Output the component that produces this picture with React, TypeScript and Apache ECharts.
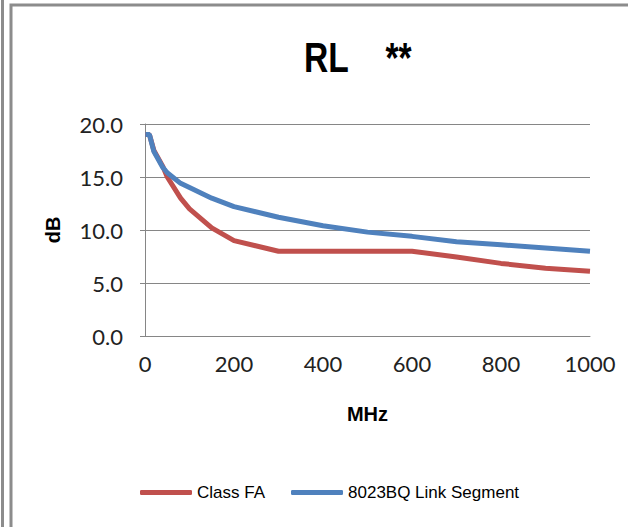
import React, { useEffect, useRef } from "react";
import * as echarts from "echarts";

const freqMHz = [1, 10, 20, 40, 50, 80, 100, 150, 200, 300, 400, 500, 600, 700, 800, 900, 1000];
const classFA = [19.0, 19.0, 17.5, 16.0, 15.0, 13.0, 12.0, 10.2, 9.0, 8.0, 8.0, 8.0, 8.0, 7.45, 6.85, 6.4, 6.1];
const linkSegment = [19.0, 19.0, 17.4, 15.9, 15.4, 14.4, 14.0, 13.0, 12.2, 11.2, 10.4, 9.8, 9.4, 8.9, 8.6, 8.3, 8.0];
const seriesNames = ["Class FA", "8023BQ Link Segment"];
const titleText = "RL    **";

const SANS = "'Liberation Sans', Arial, sans-serif";
const TICKFONT = "Lato, 'Open Sans', sans-serif";

export default function App() {
  const ref = useRef<HTMLDivElement>(null);
  useEffect(() => {
    if (!ref.current) return;
    const chart = echarts.init(ref.current, null, { renderer: "svg" });
    const pair = (ys: number[]) => freqMHz.map((f, i) => [f, ys[i]]);
    chart.setOption({
      animation: false,
      backgroundColor: "#ffffff",
      legend: {
        left: 135,
        top: 479,
        icon: "roundRect",
        itemWidth: 52,
        itemHeight: 5,
        itemGap: 26,
        textStyle: { fontFamily: SANS, fontSize: 17, color: "#000" },
        data: seriesNames,
      },
      grid: { left: 145, right: 38, top: 124, bottom: 191 },
      xAxis: {
        type: "value",
        min: 0,
        max: 1000,
        interval: 200,
        name: "MHz",
        nameLocation: "middle",
        nameGap: 68,
        nameTextStyle: { fontFamily: SANS, fontWeight: "bold", fontSize: 20, color: "#000" },
        axisLine: { show: true, lineStyle: { color: "#868686", width: 1 } },
        axisTick: { show: false },
        splitLine: { show: false },
        axisLabel: {
          margin: 16,
          fontFamily: TICKFONT,
          fontSize: 22,
          color: "#222",
          formatter: (v: number) => String(v),
        },
      },
      yAxis: {
        type: "value",
        min: 0,
        max: 20,
        interval: 5,
        name: "dB",
        nameLocation: "middle",
        nameRotate: 90,
        nameGap: 82,
        nameTextStyle: { fontFamily: SANS, fontWeight: "bold", fontSize: 20, color: "#000" },
        axisLine: { show: true, lineStyle: { color: "#868686", width: 1 } },
        axisTick: { show: true, length: 5, lineStyle: { color: "#868686" } },
        splitLine: { show: true, lineStyle: { color: "#868686", width: 1 } },
        axisLabel: {
          margin: 22,
          fontFamily: TICKFONT,
          fontSize: 22,
          color: "#222",
          formatter: (v: number) => v.toFixed(1),
        },
      },
      series: [
        {
          name: seriesNames[0],
          type: "line",
          data: pair(classFA),
          showSymbol: false,
          symbol: "none",
          lineStyle: { color: "#C0504D", width: 5 },
          itemStyle: { color: "#C0504D" },
        },
        {
          name: seriesNames[1],
          type: "line",
          data: pair(linkSegment),
          showSymbol: false,
          symbol: "none",
          lineStyle: { color: "#4F81BD", width: 5 },
          itemStyle: { color: "#4F81BD" },
        },
      ],
      graphic: [
        { type: "rect", shape: { x: 1, y: 0, width: 3, height: 527 }, style: { fill: "#8c8c8c" } },
        {
          type: "polyline",
          shape: { points: [[11, 527], [11, 5], [628, 5]] },
          style: { stroke: "#8c8c8c", lineWidth: 3, fill: "none" },
        },
        {
          type: "text",
          x: 304,
          y: 37,
          scaleX: 0.8,
          style: {
            text: titleText,
            fontFamily: SANS,
            fontWeight: "bold",
            fontSize: 42,
            fill: "#000",
            textAlign: "left",
            textVerticalAlign: "top",
          },
        },
      ],
    });
    return () => chart.dispose();
  }, []);
  return (
    <div
      ref={ref}
      style={{ position: "absolute", left: 0, top: 0, width: 628, height: 527 }}
    />
  );
}
